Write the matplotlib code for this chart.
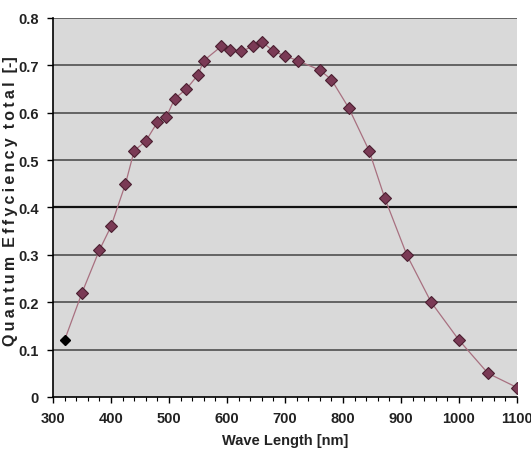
import matplotlib.pyplot as plt
from matplotlib.ticker import MultipleLocator, FuncFormatter

# Quantum efficiency readings
wavelength = [320, 350, 380, 400, 425, 440, 460, 480, 495, 510, 530, 550, 560,
              590, 605, 625, 645, 660, 680, 700, 722, 760, 780, 810, 845, 872,
              910, 952, 1000, 1050, 1100]
efficiency = [0.12, 0.22, 0.31, 0.36, 0.45, 0.52, 0.54, 0.58, 0.59, 0.63, 0.65,
              0.68, 0.71, 0.74, 0.733, 0.73, 0.74, 0.75, 0.73, 0.72, 0.71, 0.69,
              0.67, 0.61, 0.52, 0.42, 0.30, 0.20, 0.12, 0.05, 0.02]
grid_levels = [0.1, 0.2, 0.3, 0.4, 0.5, 0.6, 0.7, 0.8]

plt.rcParams['font.family'] = ['Liberation Sans', 'DejaVu Sans']

fig = plt.figure(figsize=(5.31, 4.52), dpi=100)
ax = fig.add_axes([0.0998, 0.1195, 0.8738, 0.8385])
ax.set_facecolor('#d9d9d9')

# Horizontal grid lines (0.4 drawn darker)
for yv in grid_levels:
    ax.axhline(yv, color='#111111' if yv == 0.4 else '#5a5a5a',
               linewidth=1.6 if yv == 0.4 else 1.3, zorder=1)

ax.plot(wavelength, efficiency, color='#a87080', linewidth=0.9, zorder=2)
ax.plot(wavelength[1:], efficiency[1:], linestyle='none', marker='D',
        markersize=6, markerfacecolor='#7a3a55', markeredgecolor='#4a1f30',
        markeredgewidth=0.8, zorder=3)
ax.plot(wavelength[:1], efficiency[:1], linestyle='none', marker='D',
        markersize=5, color='black', zorder=3)

ax.set_xlim(300, 1100)
ax.set_ylim(0, 0.8)
ax.xaxis.set_major_locator(MultipleLocator(100))
ax.xaxis.set_minor_locator(MultipleLocator(20))
ax.yaxis.set_major_locator(MultipleLocator(0.1))
ax.yaxis.set_major_formatter(FuncFormatter(lambda v, p: '0' if abs(v) < 1e-9 else f'{v:.1f}'))

for side in ['top', 'right']:
    ax.spines[side].set_visible(False)
ax.spines['left'].set_linewidth(1.2)
ax.spines['bottom'].set_linewidth(1.2)

ax.tick_params(axis='x', which='major', direction='out', length=4, width=1,
               labelsize=10.5, pad=6)
ax.tick_params(axis='x', which='minor', direction='out', length=3, width=0.8)
ax.tick_params(axis='y', which='major', direction='out', length=4, width=1,
               labelsize=10.5, pad=6)
for lbl in ax.get_xticklabels() + ax.get_yticklabels():
    lbl.set_fontweight('bold')
    lbl.set_color('#222222')

ax.set_xlabel('Wave Length [nm]', fontsize=10.5, fontweight='bold', color='#222222')
ax.xaxis.set_label_coords(0.5, -0.095)

# y label with wide letter spacing, clipped at the top like the original
ylabel = '\u2009'.join('Quantum') + '  ' + '\u2009'.join('Effyciency') + '  ' \
    + '\u2009'.join('total') + '  [-]'
fig.text(0.02, (452 - 346) / 452, ylabel, rotation=90, ha='center', va='bottom',
         fontsize=11.5, fontweight='bold', color='#222222')

plt.savefig('out.png', dpi=100)
